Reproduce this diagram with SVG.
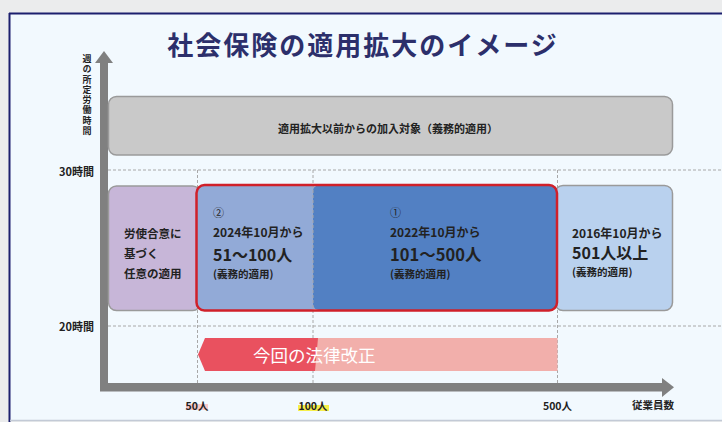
<svg xmlns="http://www.w3.org/2000/svg" width="722" height="422" viewBox="0 0 722 422">
<style>
.jp{font-family:"Noto Sans CJK JP","Noto Sans",sans-serif;fill:#222}
.b{font-weight:bold}
.dash{stroke:#a8a8a8;stroke-width:1;stroke-dasharray:3 2;fill:none}
.box{stroke:#9a9a9a;stroke-width:1.5}
.axis{fill:#808080}
</style>
<rect x="0" y="0" width="722" height="422" fill="#ebeced"/>
<rect x="9" y="13" width="713" height="408" fill="#f2f9fe"/>
<line x1="9.5" y1="13" x2="9.5" y2="422" stroke="#1c1f6e" stroke-width="2"/>
<line x1="9" y1="13.5" x2="722" y2="13.5" stroke="#1c1f6e" stroke-width="2"/>
<line x1="10" y1="420.5" x2="722" y2="420.5" stroke="#c3cad6" stroke-width="1.5"/>

<text id="title" class="jp b" x="363" y="55" font-size="26" text-anchor="middle" letter-spacing="2" style="fill:#2c2f6b">社会保険の適用拡大のイメージ</text>

<g id="grid">
<line class="dash" x1="108" y1="170" x2="722" y2="170"/>
<line class="dash" x1="108" y1="326" x2="722" y2="326"/>
<line class="dash" x1="197.5" y1="170" x2="197.5" y2="383"/>
<line class="dash" x1="313" y1="170" x2="313" y2="383"/>
<line class="dash" x1="557.5" y1="170" x2="557.5" y2="383"/>
</g>

<g id="axes">
<rect class="axis" x="100" y="62" width="8" height="329"/>
<polygon class="axis" points="95,63 113,63 104,51"/>
<rect class="axis" x="100" y="383" width="562" height="8.5"/>
<polygon class="axis" points="662,378 662,397 674,387.3"/>
<text class="jp b" x="87" y="54" font-size="9" letter-spacing="1.3" style="writing-mode:vertical-rl">週の所定労働時間</text>
<text class="jp b" x="94" y="176" font-size="11" text-anchor="end">30時間</text>
<text class="jp b" x="94" y="331" font-size="11" text-anchor="end">20時間</text>
<rect x="186" y="404" width="22" height="6" fill="#f7c8c8"/>
<rect x="298" y="405" width="31" height="6" fill="#f6ef4a"/>
<text class="jp b" x="197" y="410" font-size="10.5" text-anchor="middle">50人</text>
<text class="jp b" x="313" y="410" font-size="10.5" text-anchor="middle">100人</text>
<text class="jp b" x="557.5" y="410" font-size="10.5" text-anchor="middle">500人</text>
<text class="jp b" x="653" y="409" font-size="10.5" text-anchor="middle">従業員数</text>
</g>

<g id="existing">
<rect class="box" x="108.5" y="96.5" width="564" height="58.5" rx="8" fill="#c9c9c9"/>
<text class="jp b" x="388" y="133" font-size="11" text-anchor="middle">適用拡大以前からの加入対象（義務的適用）</text>
</g>

<g id="voluntary">
<rect class="box" x="108.5" y="186" width="92" height="124.5" rx="8" fill="#c7b6d8"/>
<text class="jp b" x="124" y="238" font-size="11.5">労使合意に</text>
<text class="jp b" x="124" y="258" font-size="11.5">基づく</text>
<text class="jp b" x="124" y="278" font-size="11.5">任意の適用</text>
</g>

<g id="large">
<rect class="box" x="555" y="185.5" width="117.5" height="125" rx="8" fill="#b9d1ee"/>
<text class="jp b" x="572" y="238" font-size="12">2016年10月から</text>
<text class="jp b" x="572" y="259" font-size="16">501人以上</text>
<text class="jp b" x="572" y="276" font-size="10.5">(義務的適用)</text>
</g>

<g id="step2">
<rect x="197" y="185" width="120" height="125" rx="6" fill="#92aad7"/>
<text class="jp" x="213" y="217" font-size="11">②</text>
<text class="jp b" x="213" y="237" font-size="12">2024年10月から</text>
<text class="jp b" x="213" y="261" font-size="16">51～100人</text>
<text class="jp b" x="213" y="278" font-size="10.5">(義務的適用)</text>
</g>

<g id="step1">
<rect x="313" y="185" width="244" height="125" rx="6" fill="#5280c3"/>
<text class="jp" x="390" y="217" font-size="11">①</text>
<text class="jp b" x="390" y="237" font-size="12">2022年10月から</text>
<text class="jp b" x="390" y="261" font-size="16.5">101～500人</text>
<text class="jp b" x="390" y="278" font-size="10.5">(義務的適用)</text>
<line class="dash" x1="313" y1="185" x2="313" y2="310" stroke="#777"/>
</g>

<g id="reform">
<rect x="196.5" y="185" width="360.5" height="125.5" rx="8" fill="none" stroke="#d0202a" stroke-width="2.5"/>
</g>

<g id="law">
<rect x="315" y="338" width="242.5" height="33" fill="#f2afab"/>
<polygon points="205,338 318,338 315,371 205,371 198,354.5" fill="#e9515f"/>
<text class="jp" x="253" y="362" font-size="17.5" style="fill:#ffffff">今回の法律改正</text>
</g>
</svg>
